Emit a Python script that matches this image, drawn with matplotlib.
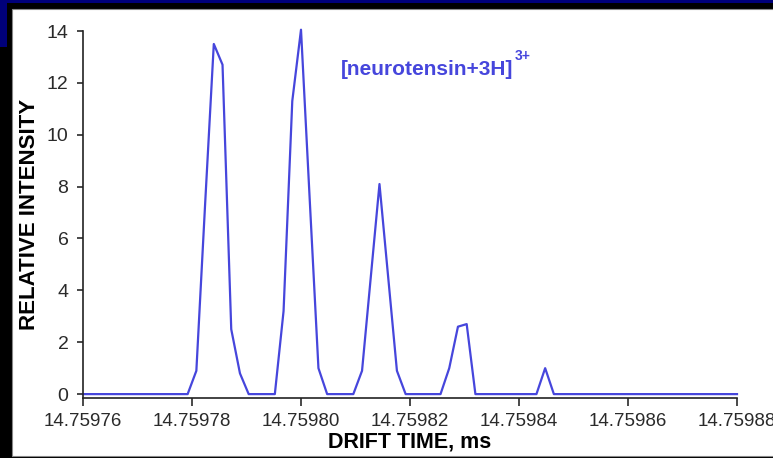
import matplotlib
matplotlib.use("Agg")
import matplotlib.pyplot as plt
from matplotlib.patches import Rectangle

plt.rcParams['font.family'] = ['Liberation Sans', 'DejaVu Sans']

drift_time = [14.75976, 14.7597792, 14.7597808, 14.7597824, 14.759784, 14.7597856,
              14.7597872, 14.7597888, 14.7597904,
              14.7597952, 14.7597968, 14.7597984, 14.7598, 14.7598016, 14.7598032,
              14.7598048,
              14.7598096, 14.7598112, 14.7598128, 14.7598144, 14.759816, 14.7598176,
              14.7598192,
              14.7598256, 14.7598272, 14.7598288, 14.7598304, 14.759832,
              14.7598432, 14.7598448, 14.7598464, 14.75988]
intensity = [0, 0, 0.9, 7.3, 13.5, 12.7, 2.5, 0.8, 0,
             0, 3.2, 11.3, 14.05, 7.5, 1.0, 0,
             0, 0.9, 4.5, 8.1, 4.5, 0.9, 0,
             0, 1.0, 2.6, 2.7, 0,
             0, 1.0, 0, 0]

x_ticks = [14.75976, 14.75978, 14.75980, 14.75982, 14.75984, 14.75986, 14.75988]
x_labels = ['14.75976', '14.75978', '14.75980', '14.75982', '14.75984', '14.75986', '14.75988']
y_ticks = [0, 2, 4, 6, 8, 10, 12, 14]

W, H = 773, 458
fig = plt.figure(figsize=(W / 100, H / 100), dpi=100)
fig.patch.set_facecolor('black')

# slide frame: navy strip on top, navy block top-left, white panel
fig.add_artist(Rectangle((0, 1 - 3 / H), 1, 3 / H, transform=fig.transFigure,
                         facecolor='#00007a', edgecolor='none', zorder=0))
fig.add_artist(Rectangle((0, 1 - 47 / H), 7 / W, 47 / H, transform=fig.transFigure,
                         facecolor='#00007a', edgecolor='none', zorder=0))
fig.add_artist(Rectangle((12 / W, 2 / H), 1, (H - 11) / H, transform=fig.transFigure,
                         facecolor='white', edgecolor='#888888', linewidth=0.8, zorder=0))

ax = fig.add_axes([83 / W, 1 - 398 / H, (737 - 83) / W, (398 - 31) / H])
ax.patch.set_alpha(0)

line_color = '#4646dc'
ax.plot(drift_time, intensity, color=line_color, linewidth=1.6, clip_on=False)

ax.set_xlim(14.75976, 14.75988)
ax.set_ylim(-0.15, 14)
ax.set_xticks(x_ticks)
ax.set_xticklabels(x_labels)
ax.set_yticks(y_ticks)

for s in ['top', 'right']:
    ax.spines[s].set_visible(False)
for s in ['left', 'bottom']:
    ax.spines[s].set_linewidth(1.2)
    ax.spines[s].set_color('#222222')

ax.tick_params(axis='x', direction='out', length=6, width=1.2, pad=5,
               labelsize=13.5, colors='#2a2a2a')
ax.tick_params(axis='y', direction='out', length=4.5, width=1.2, pad=6,
               labelsize=14, colors='#2a2a2a')

ax.set_xlabel('DRIFT TIME, ms', fontsize=15.5, fontweight='bold', labelpad=1)
ax.set_ylabel('RELATIVE INTENSITY', fontsize=16, fontweight='bold', labelpad=5)

label = ax.text((341 - 83) / 654, (398 - 75) / 367, '[neurotensin+3H]',
                transform=ax.transAxes, color=line_color, fontsize=15,
                fontweight='bold', ha='left', va='baseline')
ax.annotate('3+', xy=(1, 1.0), xycoords=label, xytext=(1, -2),
            textcoords='offset points', color=line_color, fontsize=10,
            fontweight='bold', ha='left', va='bottom')

fig.savefig('out.png', dpi=100, facecolor=fig.get_facecolor())
